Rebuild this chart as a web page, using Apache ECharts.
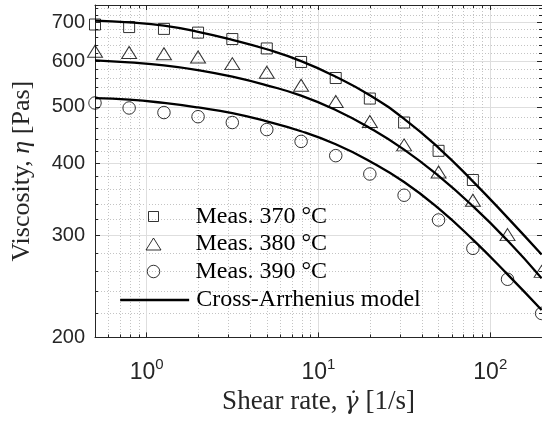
<!DOCTYPE html>
<html>
<head>
<meta charset="utf-8">
<script src="https://cdn.jsdelivr.net/npm/echarts@6/dist/echarts.min.js"></script>
<style>
  html, body { margin: 0; padding: 0; background: #fff; }
  #chart { width: 542px; height: 421px; }
</style>
</head>
<body>
<div id="chart"></div>
<script>
// Shear rates of the measurement points [1/s]
const shearRate = [0.5, 0.79, 1.26, 1.99, 3.15, 5, 7.92, 12.6, 19.9, 31.5, 50, 79.2, 126, 199];

// Measured viscosity [Pa s]
const eta370 = [694, 687, 682, 672, 655, 631, 598, 561, 517, 470, 420, 374];
const eta380 = [624, 621, 618, 610, 594, 574, 545, 511, 472, 430, 386, 345, 301, 260];
const eta390 = [508, 498, 489, 481, 470, 457, 436, 412, 383, 352, 319, 285, 252, 220];

// Cross-Arrhenius model viscosity at the same shear rates [Pa s]
const model370 = [705, 700, 691, 674, 653, 629, 600, 564, 524, 477, 425, 372, 322, 278];
const model380 = [602, 597, 590, 579, 564, 545, 523, 494, 460, 422, 380, 337, 294, 253];
const model390 = [518, 515, 508, 499, 488, 472, 454, 431, 403, 371, 334, 295, 257, 223];

// Axis ticks
const xMajorTicks = [1, 10, 100];
const xTickExponents = ['0', '1', '2'];
const xMinorTicks = [0.5, 0.6, 0.7, 0.8, 0.9, 2, 3, 4, 5, 6, 7, 8, 9, 20, 30, 40, 50, 60, 70, 80, 90, 200];
const yMajorTicks = [200, 300, 400, 500, 600, 700];
const yMinorTicks = [220, 240, 260, 280, 320, 340, 360, 380, 420, 440, 460, 480,
                     520, 540, 560, 580, 620, 640, 660, 680, 720, 740];

const seriesNames = ['Meas. 370 \u00b0C', 'Meas. 380 \u00b0C', 'Meas. 390 \u00b0C', 'Cross-Arrhenius model'];

const pairs = (xs, ys) => ys.map((y, i) => [xs[i], y]);

const AXIS = '#262626';
const SERIF = '"Liberation Serif", "Times New Roman", serif';
const SANS = '"Liberation Sans", Arial, sans-serif';
const GREEK = '"DejaVu Serif", serif';

const xRange = { min: 0.5, max: 200 };
const yRange = { min: 200, max: 750 };

function logAxis(range, position, opts) {
  return Object.assign({
    type: 'log', logBase: 10, min: range.min, max: range.max, position: position,
    axisLine: { show: false, onZero: false, lineStyle: { color: AXIS, width: 1 } },
    axisTick: { show: true, inside: true, length: 5, lineStyle: { color: AXIS, width: 1 } },
    axisLabel: { show: false },
    splitLine: { show: false },
    minorTick: { show: false },
    minorSplitLine: { show: false }
  }, opts);
}

const markerStyle = { color: 'rgba(0,0,0,0)', borderColor: '#000', borderWidth: 1 };
const squareIcon = 'path://M0,0H10V10H0Z';
const triangleIcon = 'path://M7.5,0L15,12H0Z';

function findExp(v) {
  for (let i = 0; i < xMajorTicks.length; i++) {
    if (Math.abs(v / xMajorTicks[i] - 1) < 1e-6) return xTickExponents[i];
  }
  return '';
}

// Legend text starts at the same x for every entry
const LEGEND_TEXT_X = 195;
function legendEntry(name, icon, w, h, centerX, top) {
  const left = centerX - w / 2;
  return {
    data: [name], icon: icon, itemWidth: w, itemHeight: h, left: left, top: top,
    orient: 'vertical', padding: 0, selectedMode: false, symbolKeepAspect: true,
    itemStyle: markerStyle,
    textStyle: {
      fontFamily: SERIF, fontSize: 24, lineHeight: 24, color: '#000',
      padding: [0, 0, 0, Math.max(0, LEGEND_TEXT_X - (left + w + 5))]
    }
  };
}

const lineLegend = legendEntry(seriesNames[3], undefined, 69, 10, 153.5, 288);
lineLegend.itemStyle = { color: 'rgba(0,0,0,0)', borderWidth: 0, opacity: 0 };
lineLegend.lineStyle = { color: '#000', width: 2.3 };
delete lineLegend.icon;

const option = {
  backgroundColor: '#fff',
  animation: false,
  grid: { left: 95, top: 5, width: 448, height: 332.4, containLabel: false },
  xAxis: [
    logAxis(xRange, 'bottom', {
      axisLine: { show: true, onZero: false, lineStyle: { color: AXIS, width: 1 } },
      axisTick: { show: true, inside: true, length: 5, customValues: xMajorTicks, lineStyle: { color: AXIS } },
      axisLabel: {
        show: true, customValues: xMajorTicks, margin: 20,
        formatter: v => '{b|10}{s|' + findExp(v) + '}',
        rich: {
          b: { fontFamily: SANS, fontSize: 23, color: AXIS, lineHeight: 30 },
          s: { fontFamily: SANS, fontSize: 15, color: AXIS, lineHeight: 12, verticalAlign: 'top' }
        }
      },
      splitLine: { show: true, lineStyle: { color: '#dedede', width: 1 } },
      name: 'Shear rate,\u00a0{g|\u03b3\u0307}\u00a0[1/s]', nameLocation: 'middle', nameGap: 46,
      nameTextStyle: {
        fontFamily: SERIF, fontSize: 27, color: AXIS,
        rich: { g: { fontFamily: GREEK, fontSize: 24, fontStyle: 'italic', color: AXIS } }
      }
    }),
    logAxis(xRange, 'bottom', {
      axisTick: { show: true, inside: true, length: 3, customValues: xMinorTicks, lineStyle: { color: AXIS } },
      splitLine: { show: true, lineStyle: { color: '#c4c4c4', width: 1, type: [1, 2] } }
    }),
    logAxis(xRange, 'top', {
      axisLine: { show: true, onZero: false, lineStyle: { color: AXIS, width: 1 } },
      axisTick: { show: true, inside: true, length: 5, customValues: xMajorTicks, lineStyle: { color: AXIS } }
    }),
    logAxis(xRange, 'top', {
      axisTick: { show: true, inside: true, length: 3, customValues: xMinorTicks, lineStyle: { color: AXIS } }
    })
  ],
  yAxis: [
    logAxis(yRange, 'left', {
      axisLine: { show: true, onZero: false, lineStyle: { color: AXIS, width: 1 } },
      axisTick: { show: true, inside: true, length: 5, customValues: yMajorTicks, lineStyle: { color: AXIS } },
      axisLabel: { show: true, customValues: yMajorTicks, margin: 10, fontFamily: SANS, fontSize: 20, color: AXIS },
      splitLine: { show: true, lineStyle: { color: '#dedede', width: 1 } },
      name: 'Viscosity,\u00a0{i|\u03b7}\u00a0[Pas]', nameLocation: 'middle', nameRotate: 90, nameGap: 60,
      nameTextStyle: {
        fontFamily: SERIF, fontSize: 26, color: AXIS,
        rich: { i: { fontFamily: SERIF, fontSize: 26, fontStyle: 'italic', color: AXIS } }
      }
    }),
    logAxis(yRange, 'left', {
      axisTick: { show: true, inside: true, length: 3, customValues: yMinorTicks, lineStyle: { color: AXIS } },
      splitLine: { show: true, lineStyle: { color: '#c4c4c4', width: 1, type: [1, 2] } }
    }),
    logAxis(yRange, 'right', {
      axisLine: { show: true, onZero: false, lineStyle: { color: AXIS, width: 1 } },
      axisTick: { show: true, inside: true, length: 5, customValues: yMajorTicks, lineStyle: { color: AXIS } }
    }),
    logAxis(yRange, 'right', {
      axisTick: { show: true, inside: true, length: 3, customValues: yMinorTicks, lineStyle: { color: AXIS } }
    })
  ],
  legend: [
    legendEntry(seriesNames[0], squareIcon, 10, 10, 153, 204.5),
    legendEntry(seriesNames[1], triangleIcon, 15, 12, 153, 232),
    legendEntry(seriesNames[2], 'circle', 12.5, 12.5, 153, 259.5),
    lineLegend
  ],
  series: [
    { name: seriesNames[0], type: 'scatter', data: pairs(shearRate, eta370), symbol: 'rect', symbolSize: 11, itemStyle: markerStyle, clip: false, z: 3 },
    { name: seriesNames[1], type: 'scatter', data: pairs(shearRate, eta380), symbol: 'triangle', symbolSize: [15, 12], itemStyle: markerStyle, clip: false, z: 3 },
    { name: seriesNames[2], type: 'scatter', data: pairs(shearRate, eta390), symbol: 'circle', symbolSize: 12.5, itemStyle: markerStyle, clip: false, z: 3 },
    { name: seriesNames[3], type: 'line', data: pairs(shearRate, model370), symbol: 'none', smooth: 0.5, lineStyle: { color: '#000', width: 2.3 }, itemStyle: { color: '#000' }, z: 4 },
    { name: seriesNames[3], type: 'line', data: pairs(shearRate, model380), symbol: 'none', smooth: 0.5, lineStyle: { color: '#000', width: 2.3 }, itemStyle: { color: '#000' }, z: 4 },
    { name: seriesNames[3], type: 'line', data: pairs(shearRate, model390), symbol: 'none', smooth: 0.5, lineStyle: { color: '#000', width: 2.3 }, itemStyle: { color: '#000' }, z: 4 }
  ]
};

const chart = echarts.init(document.getElementById('chart'), null, { renderer: 'canvas' });
chart.setOption(option);
</script>
</body>
</html>
